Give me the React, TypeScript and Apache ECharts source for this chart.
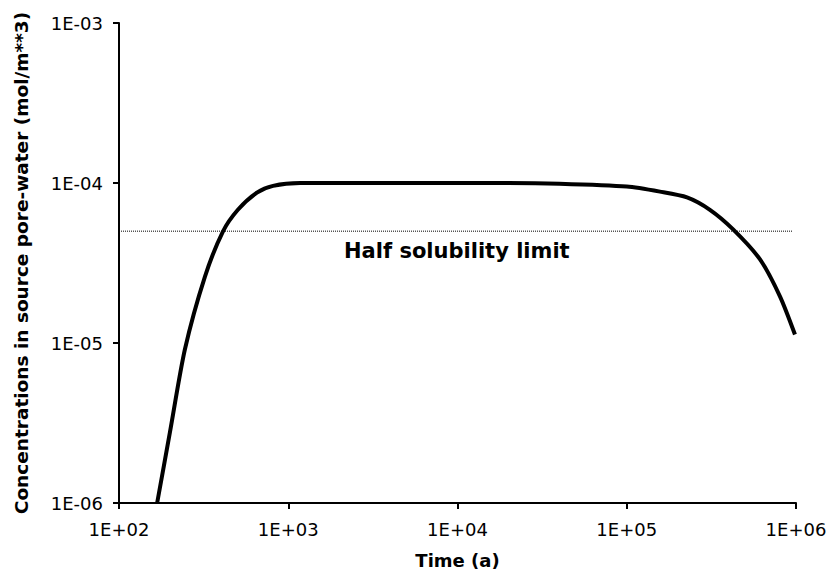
import React, { useEffect, useRef } from "react";
import * as echarts from "echarts";

const timeYears = [168, 200, 245, 322, 411, 504, 653, 813, 1175, 2000, 5000, 20000, 40000, 100000, 157000, 227000, 310000, 425000, 613000, 805000, 986000];
const concentration = [1.0e-6, 2.77e-6, 9.1e-6, 2.6e-5, 4.97e-5, 6.8e-5, 8.7e-5, 9.6e-5, 1.0e-4, 1.0e-4, 1.0e-4, 1.0e-4, 9.9e-5, 9.5e-5, 8.83e-5, 8.13e-5, 6.8e-5, 5.13e-5, 3.33e-5, 1.95e-5, 1.13e-5];
const halfSolubility = 5e-5;
const halfLineX = [100, 950000];
const xTicks = [100, 1000, 10000, 100000, 1000000];
const yTicks = [1e-6, 1e-5, 1e-4, 1e-3];

function sci(v: number): string {
  const e = Math.round(Math.log10(v));
  const s = e >= 0 ? "+" : "-";
  const a = Math.abs(e);
  return "1E" + s + (a < 10 ? "0" + a : String(a));
}

export default function App() {
  const ref = useRef<HTMLDivElement>(null);
  useEffect(() => {
    if (!ref.current) return;
    const chart = echarts.init(ref.current, undefined, { renderer: "svg" });
    const font = "DejaVu Sans";
    chart.setOption({
      animation: false,
      backgroundColor: "#ffffff",
      grid: { left: 119, right: 37, top: 23, bottom: 70 },
      xAxis: {
        type: "log",
        logBase: 10,
        min: xTicks[0],
        max: xTicks[xTicks.length - 1],
        name: "Time (a)",
        nameLocation: "middle",
        nameGap: 48,
        nameTextStyle: { fontFamily: font, fontWeight: "bold", fontSize: 18, color: "#000" },
        axisLine: { show: true, lineStyle: { color: "#000", width: 2 } },
        axisTick: { show: true, length: 6, lineStyle: { color: "#000", width: 2 } },
        minorTick: { show: false },
        splitLine: { show: false },
        axisLabel: { formatter: (v: number) => sci(v), fontFamily: font, fontSize: 18, color: "#000", margin: 17 },
      },
      yAxis: {
        type: "log",
        logBase: 10,
        min: yTicks[0],
        max: yTicks[yTicks.length - 1],
        name: "Concentrations in source pore-water (mol/m**3)",
        nameLocation: "middle",
        nameGap: 88,
        nameTextStyle: { fontFamily: font, fontWeight: "bold", fontSize: 18.5, color: "#000" },
        axisLine: { show: true, lineStyle: { color: "#000", width: 2 } },
        axisTick: { show: true, length: 6, lineStyle: { color: "#000", width: 2 } },
        splitLine: { show: false },
        axisLabel: { formatter: (v: number) => sci(v), fontFamily: font, fontSize: 18, color: "#000", margin: 16 },
      },
      graphic: [
        {
          type: "text",
          left: 457 - 113,
          top: 240,
          style: { text: "Half solubility limit", fontFamily: font, fontWeight: "bold", fontSize: 21, fill: "#000" },
        },
      ],
      series: [
        {
          type: "line",
          data: halfLineX.map((x) => [x, halfSolubility]),
          showSymbol: false,
          symbol: "none",
          lineStyle: { color: "#000", width: 1, type: "dotted" },
          z: 1,
        },
        {
          type: "line",
          data: timeYears.map((t, i) => [t, concentration[i]]),
          smooth: 0.25,
          showSymbol: false,
          symbol: "none",
          lineStyle: { color: "#000", width: 4 },
          z: 2,
        },
      ],
    });
    return () => chart.dispose();
  }, []);
  return <div ref={ref} style={{ position: "fixed", left: 0, top: 0, width: 833, height: 574 }} />;
}
